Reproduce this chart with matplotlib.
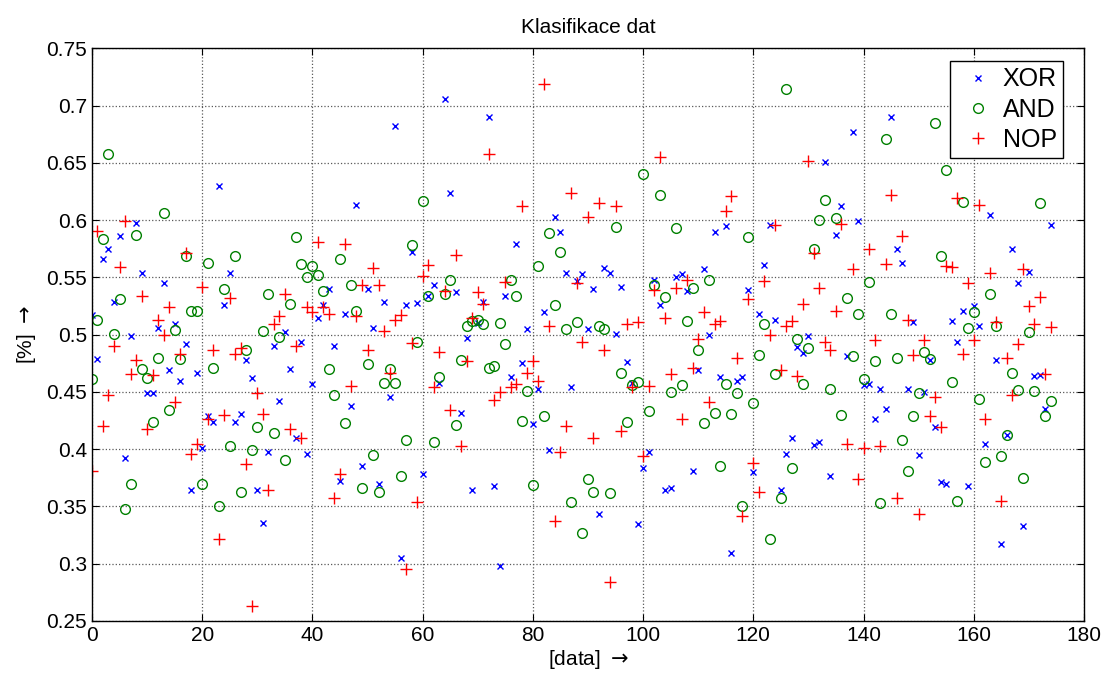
import matplotlib
matplotlib.use('Agg')
import matplotlib.pyplot as plt
import numpy as np

plt.rcParams['font.family'] = ['Liberation Sans', 'DejaVu Sans']

# values, one per data index 0..174
xor_vals = [
    0.517, 0.479, 0.566, 0.575, 0.529, 0.586, 0.392, 0.499, 0.598, 0.554,
    0.449, 0.449, 0.506, 0.545, 0.469, 0.509, 0.460, 0.492, 0.364, 0.467,
    0.401, 0.429, 0.424, 0.630, 0.526, 0.554, 0.424, 0.431, 0.478, 0.462,
    0.364, 0.336, 0.398, 0.490, 0.442, 0.502, 0.470, 0.410, 0.494, 0.396,
    0.457, 0.515, 0.526, 0.540, 0.490, 0.372, 0.518, 0.438, 0.613, 0.385,
    0.540, 0.506, 0.370, 0.529, 0.446, 0.682, 0.305, 0.526, 0.572, 0.528,
    0.378, 0.534, 0.543, 0.458, 0.706, 0.624, 0.537, 0.432, 0.497, 0.364,
    0.510, 0.529, 0.690, 0.368, 0.298, 0.534, 0.463, 0.579, 0.475, 0.505,
    0.422, 0.453, 0.520, 0.399, 0.603, 0.590, 0.554, 0.454, 0.547, 0.553,
    0.505, 0.540, 0.343, 0.558, 0.554, 0.501, 0.542, 0.476, 0.458, 0.335,
    0.384, 0.398, 0.548, 0.526, 0.364, 0.366, 0.550, 0.553, 0.538, 0.381,
    0.469, 0.557, 0.500, 0.590, 0.463, 0.595, 0.309, 0.460, 0.463, 0.539,
    0.380, 0.518, 0.561, 0.596, 0.513, 0.364, 0.396, 0.410, 0.489, 0.484,
    0.499, 0.404, 0.406, 0.651, 0.377, 0.587, 0.612, 0.481, 0.677, 0.599,
    0.456, 0.457, 0.426, 0.453, 0.435, 0.690, 0.575, 0.563, 0.453, 0.511,
    0.395, 0.450, 0.478, 0.419, 0.371, 0.370, 0.512, 0.494, 0.521, 0.368,
    0.525, 0.508, 0.405, 0.605, 0.478, 0.317, 0.412, 0.575, 0.545, 0.333,
    0.555, 0.464, 0.465, 0.435, 0.596,
]
and_vals = [
    0.461, 0.513, 0.584, 0.658, 0.501, 0.531, 0.348, 0.370, 0.587, 0.470,
    0.462, 0.424, 0.480, 0.606, 0.434, 0.504, 0.479, 0.569, 0.521, 0.521,
    0.370, 0.563, 0.471, 0.350, 0.540, 0.403, 0.569, 0.363, 0.487, 0.399,
    0.419, 0.503, 0.536, 0.414, 0.498, 0.391, 0.527, 0.585, 0.562, 0.550,
    0.560, 0.552, 0.538, 0.470, 0.447, 0.566, 0.423, 0.543, 0.521, 0.366,
    0.474, 0.395, 0.363, 0.458, 0.470, 0.458, 0.377, 0.408, 0.578, 0.494,
    0.617, 0.534, 0.406, 0.463, 0.536, 0.548, 0.421, 0.478, 0.508, 0.512,
    0.513, 0.509, 0.471, 0.473, 0.510, 0.492, 0.548, 0.534, 0.425, 0.451,
    0.369, 0.560, 0.429, 0.589, 0.526, 0.572, 0.505, 0.354, 0.511, 0.327,
    0.374, 0.363, 0.508, 0.505, 0.362, 0.594, 0.467, 0.424, 0.456, 0.459,
    0.640, 0.433, 0.543, 0.622, 0.533, 0.450, 0.593, 0.456, 0.512, 0.541,
    0.487, 0.423, 0.548, 0.432, 0.385, 0.457, 0.431, 0.449, 0.350, 0.585,
    0.440, 0.482, 0.509, 0.322, 0.466, 0.357, 0.715, 0.384, 0.496, 0.457,
    0.488, 0.575, 0.600, 0.618, 0.453, 0.602, 0.430, 0.532, 0.481, 0.518,
    0.461, 0.546, 0.477, 0.353, 0.671, 0.518, 0.480, 0.408, 0.381, 0.429,
    0.449, 0.485, 0.479, 0.685, 0.569, 0.644, 0.459, 0.355, 0.616, 0.506,
    0.520, 0.444, 0.389, 0.536, 0.508, 0.394, 0.412, 0.467, 0.452, 0.375,
    0.502, 0.451, 0.615, 0.429, 0.442,
]
nop_vals = [
    0.381, 0.591, 0.420, 0.447, 0.490, 0.559, 0.599, 0.466, 0.478, 0.534,
    0.418, 0.465, 0.513, 0.500, 0.524, 0.441, 0.483, 0.571, 0.396, 0.405,
    0.542, 0.426, 0.487, 0.322, 0.430, 0.532, 0.483, 0.488, 0.387, 0.263,
    0.449, 0.431, 0.364, 0.509, 0.516, 0.536, 0.418, 0.490, 0.410, 0.524,
    0.520, 0.581, 0.524, 0.518, 0.357, 0.378, 0.579, 0.455, 0.516, 0.543,
    0.487, 0.558, 0.543, 0.503, 0.467, 0.513, 0.517, 0.295, 0.493, 0.354,
    0.551, 0.561, 0.454, 0.485, 0.538, 0.434, 0.570, 0.403, 0.477, 0.515,
    0.537, 0.527, 0.658, 0.443, 0.450, 0.546, 0.454, 0.457, 0.612, 0.467,
    0.477, 0.460, 0.719, 0.508, 0.337, 0.398, 0.420, 0.624, 0.545, 0.494,
    0.603, 0.410, 0.615, 0.487, 0.284, 0.612, 0.416, 0.509, 0.454, 0.511,
    0.394, 0.455, 0.539, 0.655, 0.515, 0.466, 0.541, 0.426, 0.548, 0.471,
    0.496, 0.520, 0.441, 0.509, 0.512, 0.608, 0.621, 0.480, 0.342, 0.531,
    0.388, 0.363, 0.547, 0.500, 0.596, 0.469, 0.508, 0.512, 0.464, 0.527,
    0.652, 0.571, 0.541, 0.494, 0.487, 0.521, 0.597, 0.405, 0.557, 0.374,
    0.401, 0.575, 0.495, 0.403, 0.562, 0.622, 0.357, 0.586, 0.513, 0.482,
    0.343, 0.495, 0.429, 0.446, 0.419, 0.560, 0.559, 0.619, 0.483, 0.545,
    0.495, 0.613, 0.426, 0.554, 0.511, 0.355, 0.480, 0.447, 0.492, 0.557,
    0.525, 0.509, 0.533, 0.466, 0.507,
]
x = np.arange(len(xor_vals))

x_ticks = [0, 20, 40, 60, 80, 100, 120, 140, 160, 180]
y_ticks = [0.25, 0.3, 0.35, 0.4, 0.45, 0.5, 0.55, 0.6, 0.65, 0.7, 0.75]

fig = plt.figure(figsize=(11.16, 6.8), dpi=100)
ax = fig.add_axes([0.0824, 0.0868, 0.8889, 0.8419])

ax.plot(x, xor_vals, 'x', color='#0000ff', ms=4, mew=1.0, label='XOR')
ax.plot(x, and_vals, 'o', color='#008000', mfc='none', ms=7, mew=1.0, label='AND')
ax.plot(x, nop_vals, '+', color='#ff0000', ms=8, mew=1.0, label='NOP')

ax.set_xlim(0, 180)
ax.set_ylim(0.25, 0.75)
ax.set_xticks(x_ticks)
ax.set_yticks(y_ticks)
ax.set_yticklabels([('%g' % v) for v in y_ticks])
ax.tick_params(direction='in', top=True, right=True, labelsize=15, length=5)
ax.grid(True, linestyle=':', color='0.35', linewidth=0.9)
for s in ax.spines.values():
    s.set_linewidth(1.0)

ax.set_title('Klasifikace dat', fontsize=15, pad=11)
ax.set_xlabel('[data] $\\rightarrow$', fontsize=15, labelpad=2)
ax.set_ylabel('[%] $\\rightarrow$', fontsize=15, labelpad=6)

# legend box placed like the reference (top-right, a little inset)
leg = ax.legend(loc='upper right', bbox_to_anchor=(0.979, 0.978), borderaxespad=0,
                fontsize=18, fancybox=False, edgecolor='black', framealpha=1,
                handlelength=1.7, handletextpad=0.15, borderpad=0.25,
                labelspacing=0.25)
leg.get_frame().set_linewidth(1.0)

fig.savefig('out.png', dpi=100)
